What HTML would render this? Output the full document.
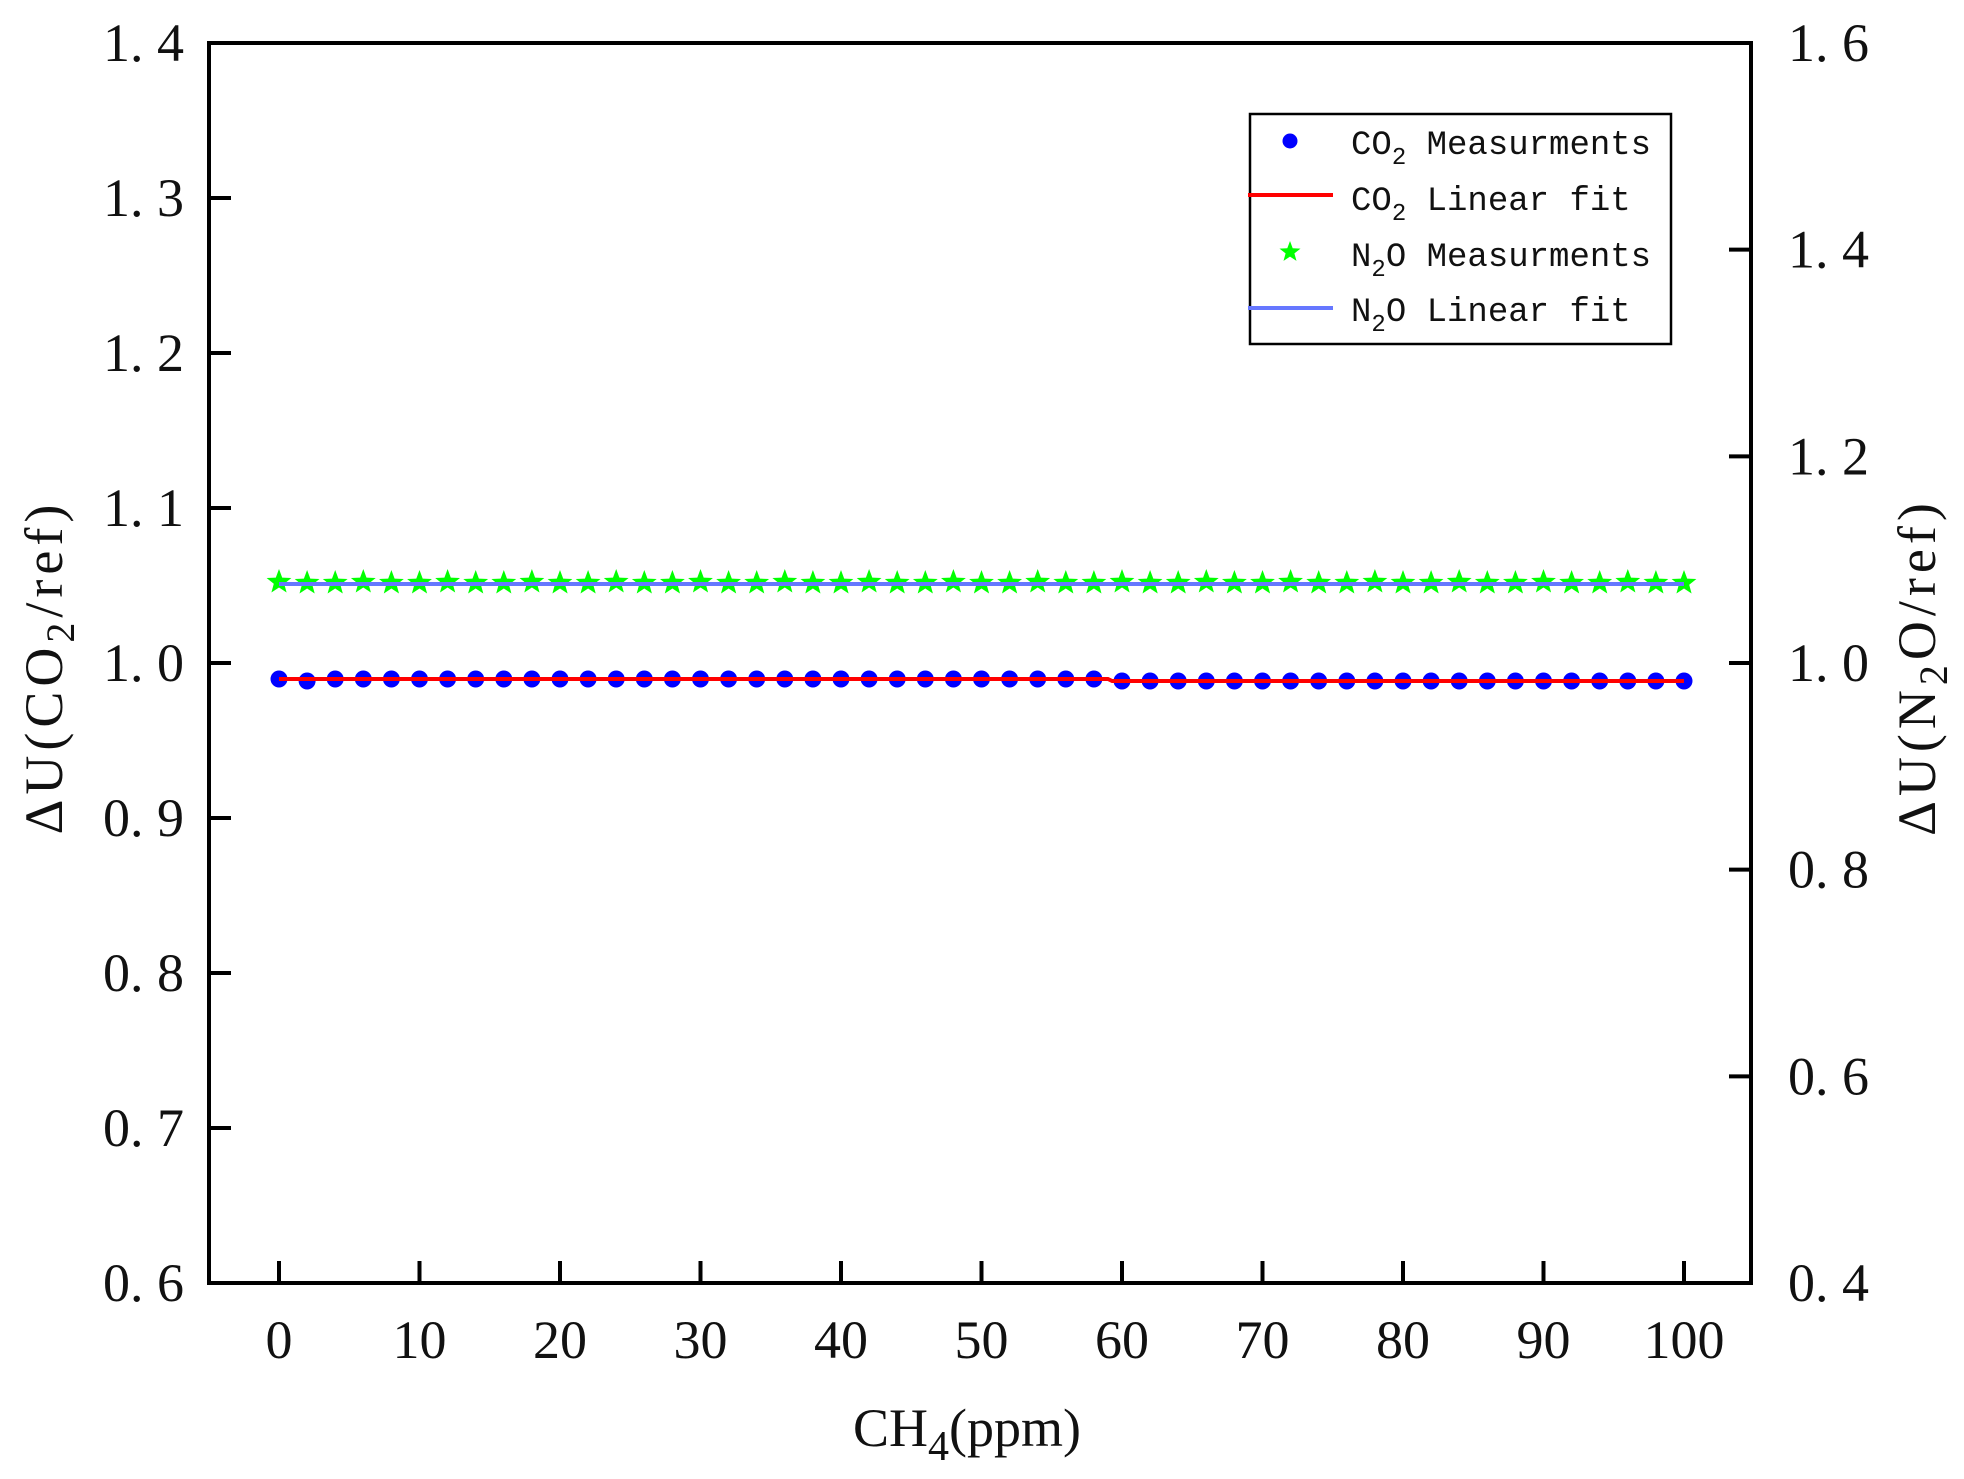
<!DOCTYPE html>
<html><head><meta charset="utf-8"><style>
html,body{margin:0;padding:0;background:#fff;}
svg{display:block}
.t{font-family:"Liberation Serif","Noto Serif CJK SC",serif;font-size:54px;fill:#111}
.m{font-family:"Liberation Mono",monospace;font-size:34px;fill:#111}
</style></head><body>
<svg width="1964" height="1479" viewBox="0 0 1964 1479" xmlns="http://www.w3.org/2000/svg">
<rect width="1964" height="1479" fill="#fff"/>
<g id="ticks" stroke="#000" stroke-width="4"></g>
<g id="data"></g>
<rect x="209" y="43" width="1542" height="1240" fill="none" stroke="#000" stroke-width="4"/>
<g id="labels" class="t"></g>
<text class="t" font-size="60" letter-spacing="5" transform="translate(62,667) rotate(-90)" text-anchor="middle">ΔU(CO<tspan font-size="40" dy="12">2</tspan><tspan dy="-12">/ref)</tspan></text>
<text class="t" font-size="60" letter-spacing="5" transform="translate(1935,667) rotate(-90)" text-anchor="middle">ΔU(N<tspan font-size="40" dy="12">2</tspan><tspan dy="-12">O/ref)</tspan></text>
<text class="t" font-size="62" x="967" y="1446" text-anchor="middle">CH<tspan font-size="42" dy="14">4</tspan><tspan dy="-14">(ppm)</tspan></text>
<rect x="1250" y="114" width="421" height="230" fill="#fff" stroke="#000" stroke-width="2.5"/>
<circle cx="1290" cy="141" r="7.5" fill="#0000ff"/>
<line x1="1248" y1="195" x2="1333" y2="195" stroke="#ff0000" stroke-width="4"/>
<polygon id="ls" fill="#00ff00"/>
<line x1="1248" y1="308" x2="1333" y2="308" stroke="#6677ff" stroke-width="4"/>
<text class="m" x="1351" y="154">CO<tspan font-size="24" dy="10">2</tspan><tspan dy="-10"> Measurments</tspan></text>
<text class="m" x="1351" y="210">CO<tspan font-size="24" dy="10">2</tspan><tspan dy="-10"> Linear fit</tspan></text>
<text class="m" x="1351" y="266">N<tspan font-size="24" dy="10">2</tspan><tspan dy="-10">O Measurments</tspan></text>
<text class="m" x="1351" y="321">N<tspan font-size="24" dy="10">2</tspan><tspan dy="-10">O Linear fit</tspan></text>
<script>
(function(){
const NS="http://www.w3.org/2000/svg";
function el(p,t,a,txt){const e=document.createElementNS(NS,t);for(const k in a)e.setAttribute(k,a[k]);if(txt!=null)e.textContent=txt;p.appendChild(e);return e;}
const X=v=>279+v*14.05, T0=43, B0=1283, R0=1751;
const YL=v=>B0-(v-0.6)/0.8*(B0-T0), YR=v=>B0-(v-0.4)/1.2*(B0-T0);
const tk=document.getElementById('ticks'),lb=document.getElementById('labels'),dt=document.getElementById('data');
for(let i=0;i<=10;i++){const x=X(i*10);el(tk,'line',{x1:x,y1:B0,x2:x,y2:B0-22});
 el(lb,'text',{x:x,y:1358,'text-anchor':'middle'},String(i*10));}
for(let i=0;i<=8;i++){const v=0.6+i*0.1,y=YL(v);el(tk,'line',{x1:209,y1:y,x2:231,y2:y});
 el(lb,'text',{x:184,y:y+18,'text-anchor':'end'},v.toFixed(1).replace('.','. '));}
for(let i=0;i<=6;i++){const v=0.4+i*0.2,y=YR(v);el(tk,'line',{x1:R0,y1:y,x2:R0-22,y2:y});
 el(lb,'text',{x:1788,y:y+18},v.toFixed(1).replace('.','. '));}
function star(cx,cy,R){const r=R*0.42;let p=[];for(let k=0;k<10;k++){const a=-Math.PI/2+k*Math.PI/5,rr=k%2?r:R;p.push((cx+rr*Math.cos(a)).toFixed(1)+','+(cy+rr*Math.sin(a)).toFixed(1));}return p.join(' ');}
document.getElementById('ls').setAttribute('points',star(1290,252,11));
for(let v=0;v<=100;v+=2){el(dt,'polygon',{points:star(X(v),583+(v%6==0?-1:0),13),fill:'#00ff00'});}
el(dt,'line',{x1:X(0),y1:584,x2:X(100),y2:584,stroke:'#6677ff','stroke-width':4});
for(let v=0;v<=100;v+=2){let y=v<60?679:681; if(v==2)y=681; el(dt,'circle',{cx:X(v),cy:y,r:8.5,fill:'#0000ff'});}
el(dt,'polyline',{points:`${X(0)},679 ${X(59)},679 ${X(59.3)},681 ${X(100)},681`,fill:'none',stroke:'#ff0000','stroke-width':4});
})();
</script>
</svg>
</body></html>
